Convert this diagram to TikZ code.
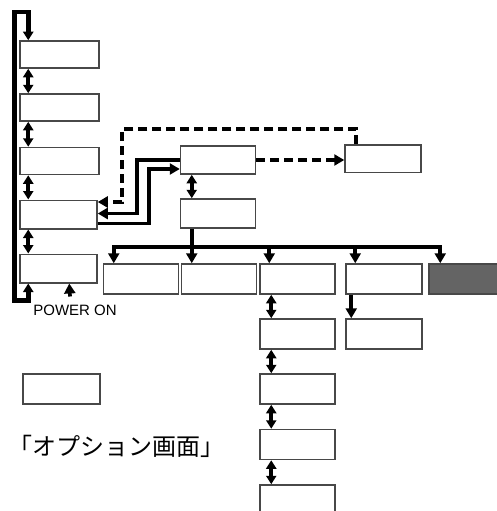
\documentclass[tikz,border=0pt]{standalone}
\usepackage{fontspec}
\setmainfont{Liberation Sans}
\newfontfamily\jpfont[RawFeature=+halt]{Noto Sans CJK JP}
\definecolor{boxgrau}{HTML}{484848}
\definecolor{dunkel}{HTML}{646464}
\usetikzlibrary{arrows.meta, positioning, calc}

\begin{document}
\begin{tikzpicture}[x=1pt, y=-1pt, >={Triangle[width=11pt,length=10pt]},
    box/.style={draw=boxgrau, line width=1.5pt, fill=white,
                minimum width=75pt, minimum height=29pt, inner sep=0pt},
    link/.style={line width=3.7pt},
    dlink/.style={link, dash pattern=on 9pt off 5pt},
    dbl/.style={link, {Triangle[width=10pt,length=8.5pt]}-{Triangle[width=10pt,length=8.5pt]}}]
  \useasboundingbox (0,0) rectangle (496,511);
  % Main menu column
  \node[box, minimum width=79pt, minimum height=27pt] (m1) at (59.5,54.5) {};
  \node[box, minimum width=79pt, minimum height=27pt] (m2) at (59.5,107.5) {};
  \node[box, minimum width=79pt, minimum height=27pt] (m3) at (59.5,161) {};
  \node[box, minimum width=77pt, minimum height=28.5pt] (m4) at (58.5,214.5) {};
  \node[box, minimum width=77pt, minimum height=28.5pt] (m5) at (58.5,268.5) {};
  \node[font=\fontsize{15}{17}\selectfont, anchor=north, inner sep=0pt] (pwr) at (75,304.5) {POWER ON};
  \draw[dbl, line width=4.5pt] ([xshift=9pt]m5.south west) -- ++(0,17) -- ++(-14,0)
    |- ([xshift=9pt,yshift=28pt]m1.north west) -- ([xshift=9pt]m1.north west);
  \foreach \i [count=\j from 2] in {1,...,4}
    \draw[dbl] ([xshift=9pt]m\i.south west) -- ([xshift=9pt]m\j.north west);
  \draw[->, link] ([xshift=-5pt,yshift=8pt]pwr.north) -- ([xshift=50pt]m5.south west);
  % Sub menu
  \node[box, minimum height=28pt] (a) at (218,160) {};
  \node[box, minimum height=29pt] (b) at (218,213.5) {};
  \node[box, minimum width=76pt, minimum height=27.5pt] (c) at (383,158.5) {};
  \draw[->, dlink] (a.east) -- (a.east -| c.west);
  \draw[->, dlink] ([xshift=12pt]c.north west) -- ++(0,-15) -- ++(-234,0)
    |- ([yshift=12.5pt]m4.east);
  \draw[->, link] (a.west) -- ++(-43,0) |- ([yshift=1pt]m4.east);
  \draw[->, link] ([yshift=-9pt]m4.east) -- ++(51,0) |- ([yshift=-9pt]a.west);
  \draw[dbl] ([xshift=12pt]a.south west) -- ([xshift=12pt]b.north west);
  % Row of items
  \node[box, minimum height=30pt] (r1) at (141,279) {};
  \node[box, minimum height=30pt] (r2) at (219,279) {};
  \node[box, minimum height=30pt] (r3) at (297.5,279) {};
  \node[box, minimum width=76pt, minimum height=30pt] (r4) at (384,279) {};
  \node[box, minimum width=76pt, minimum height=30pt, fill=dunkel] (r5) at (467,279) {};
  \draw[link] ([xshift=12pt]b.south west) -- ++(0,18) coordinate (bus);
  \foreach \r/\dx in {r1/11, r2/11, r3/10, r4/10, r5/12}
    \coordinate (in\r) at ([xshift=\dx pt]\r.north west);
  \draw[link, line cap=rect] (inr1 |- bus) -- (inr5 |- bus);
  \foreach \r in {r1,r2,r3,r4,r5}
    \draw[->, link] (in\r |- bus) -- (in\r);
  % Below the row
  \foreach \n/\y in {1/334, 2/389, 3/444.5, 4/500}
    \node[box, minimum height=30pt] (d\n) at (297.5,\y) {};
  \node[box, minimum width=76pt, minimum height=30pt] (e) at (384,334) {};
  \draw[dbl] ([xshift=12pt]r3.south west) -- ([xshift=12pt]d1.north west);
  \foreach \i [count=\j from 2] in {1,2,3}
    \draw[dbl] ([xshift=12pt]d\i.south west) -- ([xshift=12pt]d\j.north west);
  \draw[->, link] ([xshift=6pt]r4.south west) -- ([xshift=6pt]e.north west);
  % Legend
  \node[box, minimum width=77pt, minimum height=30pt] (key) at (61.5,389) {};
  \node[font=\jpfont\fontsize{24}{27}\selectfont, anchor=west, inner sep=0pt] (lbl) at (20,446) {「オプション画面」};
\end{tikzpicture}
\end{document}
